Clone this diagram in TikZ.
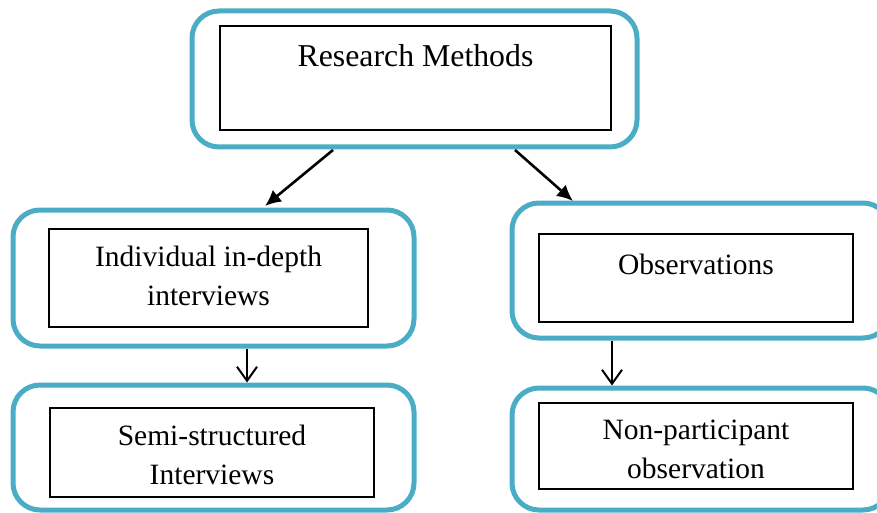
\documentclass[tikz,border=0pt]{standalone}
\usepackage{fontspec}
\setmainfont{Liberation Serif}
\usetikzlibrary{arrows.meta}
\definecolor{accent}{HTML}{4BACC6}
\begin{document}
\begin{tikzpicture}[x=1pt,y=-1pt,
  outerbox/.style={draw=accent, line width=5pt, rounded corners=27pt, minimum width=#1, inner sep=0pt},
  innerbox/.style={draw=black, line width=1.1pt, inner sep=0pt},
  lbl/.style={font=\fontsize{29.5}{39}\selectfont, align=center, anchor=base, inner sep=0pt},
  diag/.style={line width=2.6pt, -{Latex[length=16pt,width=15pt]}},
  vert/.style={line width=2pt, -{Straight Barb[length=14pt,width=20pt]}}]
\useasboundingbox (0,0) rectangle (877,513);
% outer boxes
\node[outerbox=445pt, minimum height=136pt] (top) at (414.5,79) {};
\node[outerbox=401pt, minimum height=136pt] (lmid) at (213.5,278) {};
\node[outerbox=401pt, minimum height=125pt] (llow) at (213.5,447.5) {};
\node[outerbox=378pt, minimum height=135pt] (rmid) at (701,270.5) {};
\node[outerbox=378pt, minimum height=122pt] (rlow) at (701,449) {};
% inner boxes
\node[innerbox, minimum width=391pt, minimum height=104pt] (itop) at (415.5,78) {};
\node[innerbox, minimum width=319pt, minimum height=98pt] (ilmid) at (208.5,278) {};
\node[innerbox, minimum width=324pt, minimum height=89pt] (illow) at (212,452.5) {};
\node[innerbox, minimum width=314pt, minimum height=88pt] (irmid) at (696,278) {};
\node[innerbox, minimum width=314pt, minimum height=86pt] (irlow) at (696,446) {};
% labels
\node[lbl, font=\fontsize{31.8}{39}\selectfont] (ttop) at (415.5,67) {Research Methods};
\node[lbl] (tlmid) at (208.5,305.5) {Individual in-depth\\interviews};
\node[lbl] (tllow) at (212,484.5) {Semi-structured\\Interviews};
\node[lbl] (trmid) at (696,274) {Observations};
\node[lbl] (trlow) at (696,478.5) {Non-participant\\observation};
% connectors
\coordinate (a1s) at (333,150);
\coordinate (a1e) at (265,206);
\coordinate (a2s) at (515,150);
\coordinate (a2e) at (573,201);
\draw[diag] (a1s) -- (a1e);
\draw[diag] (a2s) -- (a2e);
\draw[vert] (lmid.south -| 247,0) -- (llow.north -| 247,0);
\draw[vert] (rmid.south -| 612,0) -- (rlow.north -| 612,0);
\end{tikzpicture}
\end{document}
